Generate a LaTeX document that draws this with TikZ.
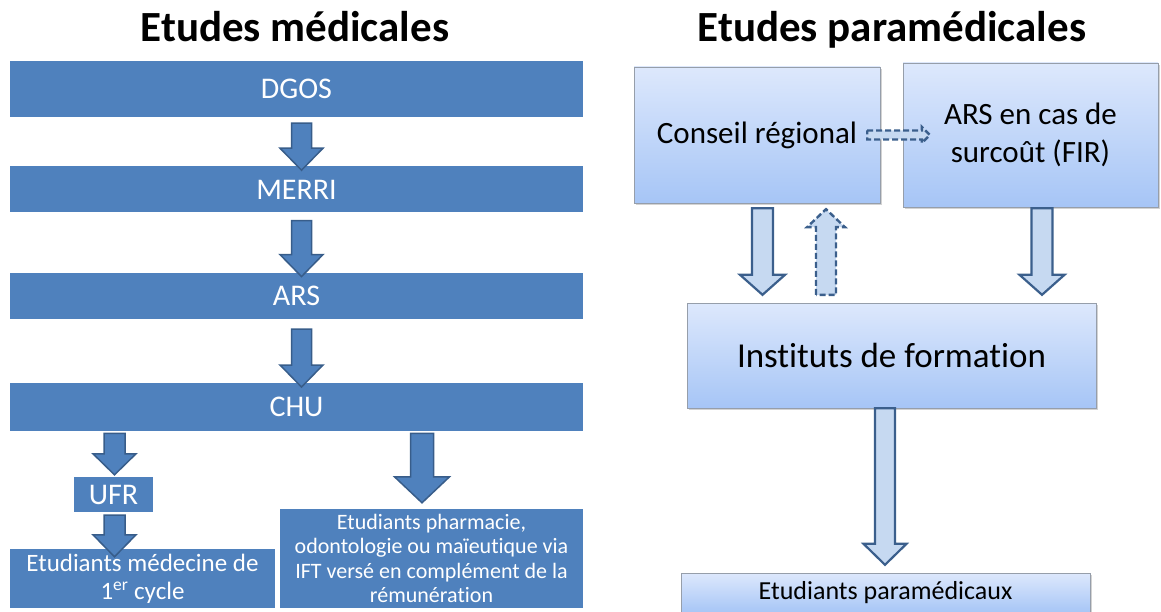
\documentclass[tikz,border=0pt]{standalone}
\usepackage{fontspec}
\setmainfont{Carlito}[Ligatures=NoCommon]
\usetikzlibrary{calc, positioning, shadows}

\definecolor{barblue}{RGB}{79,129,189}
\definecolor{barline}{RGB}{56,93,138}
\definecolor{boxtop}{RGB}{221,232,252}
\definecolor{boxbot}{RGB}{166,197,246}
\definecolor{boxline}{RGB}{150,158,170}
\definecolor{arrfill}{RGB}{198,217,241}
\definecolor{arrline}{RGB}{59,95,140}

\tikzset{
  blockarrow/.style n args={3}{to path={
    let \p1=(\tikztostart), \p2=(\tikztotarget),
        \n1={atan2(\y2-\y1,\x2-\x1)}, \n2={veclen(\x2-\x1,\y2-\y1)} in
    [shift={(\p1)}, rotate=\n1]
    (0,-#1) -- ({\n2-#3},-#1) -- ({\n2-#3},-#2) -- (\n2,0)
    -- ({\n2-#3},#2) -- ({\n2-#3},#1) -- (0,#1) -- cycle}},
}

\begin{document}
\begin{tikzpicture}[x=1pt, y=-1pt,
    title/.style={font=\fontsize{43}{50}\selectfont\bfseries, anchor=base},
    lbar/.style={fill=barblue, text=white, font=\fontsize{30}{36}\selectfont,
                 minimum width=573pt, inner sep=0pt, align=center},
    rbox/.style={draw=boxline, top color=boxtop, bottom color=boxbot, inner sep=0pt,
                 align=center, drop shadow={shadow xshift=2pt, shadow yshift=-2pt, opacity=.35}},
    larrow/.style={draw=barline, fill=barblue, line width=1.5pt},
    rarrow/.style={draw=arrline, fill=arrfill, line width=2.2pt},
    dasharrow/.style={rarrow, line width=2.4pt, dash pattern=on 6pt off 3pt}]
  \useasboundingbox (0,0) rectangle (1161,612);

  % Etudes medicales
  \node[title] (tmed) at (295,42) {Etudes médicales};
  \node[lbar, minimum height=56pt] (dgos) at (296.5,89) {DGOS};
  \node[lbar, minimum height=46pt, below=49pt of dgos] (merri) {MERRI};
  \node[lbar, minimum height=46pt, below=60pt of merri] (ars) {ARS};
  \node[lbar, minimum height=48pt, below=64pt of ars] (chu) {CHU};
  \node[lbar, minimum width=79pt, minimum height=35pt] (ufr) at (113.5,494.5) {UFR};
  \node[lbar, minimum width=265pt, minimum height=59pt, font=\fontsize{25}{28}\selectfont]
    (etudmed) at (142.5,578.5) {Etudiants médecine de\\1\textsuperscript{er} cycle};
  \node[lbar, minimum width=303pt, minimum height=99pt, font=\fontsize{22}{24.5}\selectfont]
    (etudpha) at (431.5,558.5) {Etudiants pharmacie,\\odontologie ou maïeutique via\\IFT versé en complément de la\\rémunération};

  \coordinate (lcol) at (301.5,0);
  \coordinate (ufrcol) at (114.5,0);
  \coordinate (phacol) at (422,0);

  \draw[larrow] ($(dgos.south -| lcol)+(0,6)$) to[blockarrow={10}{21.5}{22}] ($(merri.north -| lcol)+(0,4)$);
  \draw[larrow] ($(merri.south -| lcol)+(0,8)$) to[blockarrow={10}{21.5}{22}] ($(ars.north -| lcol)+(0,4)$);
  \draw[larrow] ($(ars.south -| lcol)+(0,10)$) to[blockarrow={10}{21.5}{22}] ($(chu.north -| lcol)+(0,4)$);
  \draw[larrow] ($(chu.south -| ufrcol)+(0,2)$) to[blockarrow={10.5}{21.5}{21}] ($(ufr.north -| ufrcol)+(0,-2)$);
  \draw[larrow] ($(ufr.south -| ufrcol)+(0,3)$) to[blockarrow={10.5}{21.5}{22}] ($(etudmed.north -| ufrcol)+(0,8)$);
  \draw[larrow] ($(chu.south -| phacol)+(0,2)$) to[blockarrow={11.5}{27.5}{26}] ($(etudpha.north -| phacol)+(0,-6)$);

  % Etudes paramedicales
  \node[title] (tpara) at (892,42) {Etudes paramédicales};
  \node[rbox, minimum width=246pt, minimum height=136pt, font=\fontsize{31}{38}\selectfont]
    (conseil) at (757,135) {Conseil régional};
  \node[rbox, minimum width=255pt, minimum height=144pt, font=\fontsize{31}{38}\selectfont]
    (arsfir) at (1030.5,135) {ARS en cas de\\surcoût (FIR)};
  \node[rbox, minimum width=409pt, minimum height=105pt, font=\fontsize{35}{42}\selectfont]
    (inst) at (891.5,355.5) {Instituts de formation};
  \node[rbox, minimum width=409pt, minimum height=40pt, font=\fontsize{26}{31}\selectfont]
    (etudpara) at (885.5,593) {Etudiants paramédicaux};

  \coordinate (cdown) at (762.5,0);
  \coordinate (cup) at (826,0);
  \coordinate (fircol) at (1042,0);
  \coordinate (instcol) at (885,0);

  \draw[dasharrow] ($(conseil.east)+(-13,0)$) to[blockarrow={4.5}{8}{8}] ($(arsfir.west)+(27,0)$);
  \draw[rarrow] ($(conseil.south -| cdown)+(0,5)$) to[blockarrow={10.5}{22.5}{20}] ($(inst.north -| cdown)+(0,-8)$);
  \draw[dasharrow] ($(inst.north -| cup)+(0,-8)$) to[blockarrow={10}{19}{18}] ($(conseil.south -| cup)+(0,6)$);
  \draw[rarrow] ($(arsfir.south -| fircol)+(0,1)$) to[blockarrow={10.5}{22.5}{20}] ($(inst.north -| fircol)+(0,-8)$);
  \draw[rarrow] ($(inst.south -| instcol)+(0,0)$) to[blockarrow={10}{21.5}{21}] ($(etudpara.north -| instcol)+(0,-8)$);
\end{tikzpicture}
\end{document}
